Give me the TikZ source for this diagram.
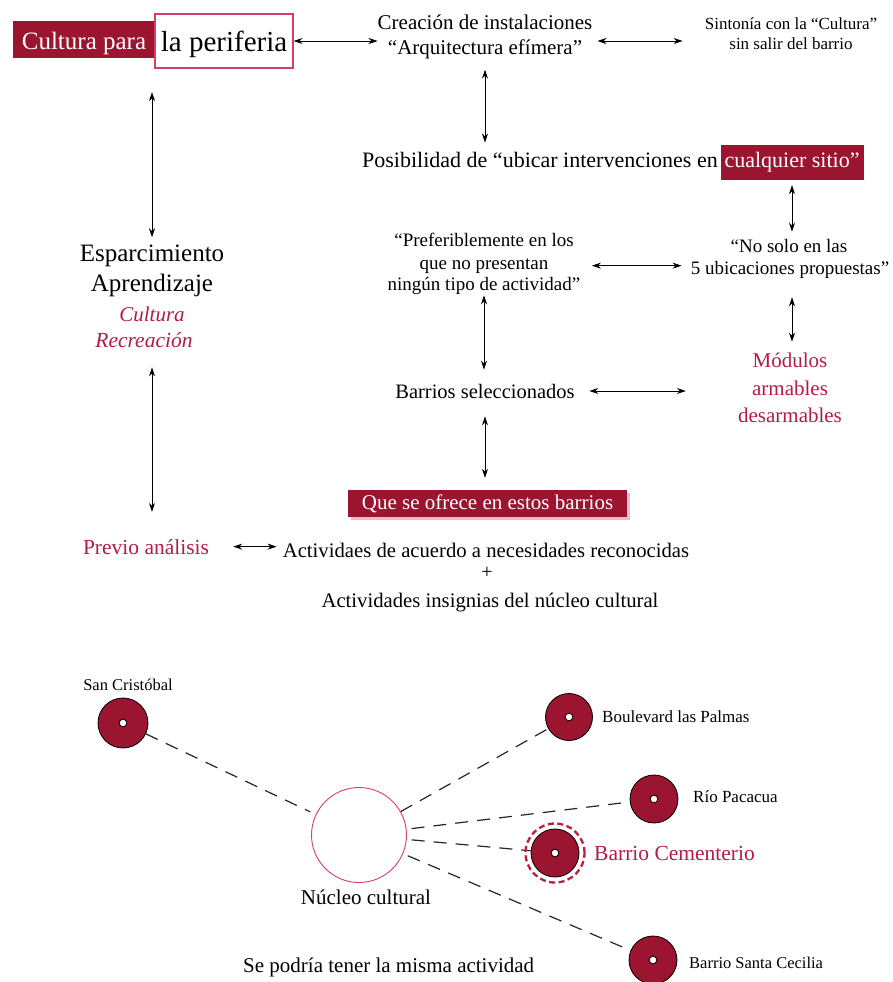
\documentclass[tikz,border=0pt]{standalone}
\usepackage{fontspec}
\setmainfont{Liberation Serif}
\usetikzlibrary{arrows.meta,shadows}
\definecolor{boxred}{RGB}{155,20,48}
\definecolor{txtred}{RGB}{178,28,72}
\definecolor{linered}{RGB}{214,62,104}
\definecolor{ringred}{RGB}{190,30,60}
\newcommand{\myfs}[1]{\fontsize{#1pt}{#1pt}\selectfont}
\begin{document}
\begin{tikzpicture}[x=1pt,y=-1pt,
  txt/.style={inner sep=0pt, anchor=base},
  txtw/.style={inner sep=0pt, anchor=base west},
  dar/.style={{Stealth[length=9pt,width=6pt]}-{Stealth[length=9pt,width=6pt]}, line width=0.9pt},
  dline/.style={dash pattern=on 13pt off 9pt, line width=1.2pt, draw=black!85},
  redbox/.style={fill=boxred, text=white, inner sep=0pt},
  site/.style={circle, draw=black, line width=0.8pt, fill=boxred, minimum size=48pt, inner sep=0pt,
    path picture={\fill[white,draw=black,line width=0.8pt] (path picture bounding box.center) circle (3.8pt);}},
]
\useasboundingbox (0,0) rectangle (892,982);
\fill[white] (0,0) rectangle (892,982);

% ---------- top block ----------
\node[redbox, minimum width=142pt, minimum height=37pt, text height=23pt, text depth=4pt, font=\myfs{25}] (cult) at (84,39.5) {Cultura para};
\node[draw=linered, line width=1.1pt, fill=white, minimum width=138pt, minimum height=54pt, inner sep=0pt, text height=25pt, text depth=3pt, font=\myfs{29}] (peri) at (224,41) {la periferia};

\node[txt, font=\myfs{21}] (crea1) at (485,30) {Creación de instalaciones};
\node[txt, font=\myfs{21}] (crea2) at (485,55) {“Arquitectura efímera”};

\node[txt, font=\myfs{17}] (sint1) at (791,30) {Sintonía con la “Cultura”};
\node[txt, font=\myfs{17}] (sint2) at (791,49) {sin salir del barrio};

\node[txtw, font=\myfs{22}] (posib) at (362,167) {Posibilidad de “ubicar intervenciones en};
\node[redbox, minimum width=143pt, minimum height=35pt, font=\myfs{22}] (cualq) at (792,162.5) {cualquier sitio”};

\node[txt, font=\myfs{19}] (nosolo1) at (789,252) {“No solo en las};
\node[txt, font=\myfs{19}] (nosolo2) at (790,274) {5 ubicaciones propuestas”};

\node[txt, font=\myfs{19}] (pref1) at (484,246) {“Preferiblemente en los};
\node[txt, font=\myfs{19}] (pref2) at (484,269) {que no presentan};
\node[txt, font=\myfs{19}] (pref3) at (484,290) {ningún tipo de actividad”};

\node[txt, font=\myfs{21}, text=txtred] (mod1) at (790,367) {Módulos};
\node[txt, font=\myfs{21}, text=txtred] (mod2) at (790,395) {armables};
\node[txt, font=\myfs{21}, text=txtred] (mod3) at (790,422) {desarmables};

\node[txt, font=\myfs{20.5}] (barrios) at (485,398) {Barrios seleccionados};

\node[redbox, minimum width=279pt, minimum height=27pt, font=\myfs{21},
  drop shadow={shadow xshift=2.5pt, shadow yshift=-3pt, fill=boxred!45, opacity=0.6}] (ofrece) at (487.5,503.5) {Que se ofrece en estos barrios};

\node[txt, font=\myfs{25}] (esp) at (152,261) {Esparcimiento};
\node[txt, font=\myfs{25}] (aprend) at (152,291) {Aprendizaje};
\node[txt, font={\myfs{21}\itshape}, text=txtred] (cultura) at (152,321) {Cultura};
\node[txt, font={\myfs{21.5}\itshape}, text=txtred] (recre) at (144,347) {Recreación};

\node[txt, font=\myfs{21.5}, text=txtred] (previo) at (146,554) {Previo análisis};
\node[txt, font=\myfs{20.7}] (activ1) at (486,557) {Actividaes de acuerdo a necesidades reconocidas};
\node[txt, font=\myfs{20}] (plus) at (487,578) {+};
\node[txt, font=\myfs{20.7}] (activ2) at (490,607) {Actividades insignias del núcleo cultural};

% ---------- arrows ----------
\draw[dar] (peri.east) -- (peri.east -| crea1.west);
\draw[dar, shorten <=5pt, shorten >=22pt] (crea1.east |- peri.east) -- (sint1.west |- peri.east);
\draw[dar, shorten <=10pt, shorten >=9pt] (crea2.south) -- (crea2.south |- posib.north);
\draw[dar, shorten <=5pt, shorten >=7pt] (cualq.south) -- (cualq.south |- nosolo1.north);
\draw[dar, shorten <=19pt, shorten >=10.5pt] (cualq.south |- nosolo2.south) -- (cualq.south |- mod1.north);
\draw[dar, shorten <=18pt, shorten >=9pt] (pref2.east -| pref1.east) -- (pref2.east -| nosolo2.west);
\draw[dar, shorten <=1pt, shorten >=14pt] (pref3.south) -- (pref3.south |- barrios.north);
\draw[dar, shorten <=14.5pt, shorten >=52pt] (barrios.east) -- (barrios.east -| mod3.west);
\draw[dar, shorten <=18pt, shorten >=12pt] (barrios.south) -- (barrios.south |- ofrece.north);
\draw[dar, shorten <=34pt, shorten >=7pt] (esp.north |- cult.south) -- (esp.north);
\draw[dar, shorten <=20pt, shorten >=27pt] (esp.south |- recre.south) -- (esp.south |- previo.north);
\draw[dar, shorten <=24pt, shorten >=6pt] (previo.east) -- (previo.east -| activ1.west);

% ---------- bottom block ----------
\node[txt, font=\myfs{16.5}] (sclab) at (128,690) {San Cristóbal};
\node[site, minimum size=50pt] (sc) at (123,723) {};
\node[circle, draw=linered, line width=0.9pt, minimum size=95pt, inner sep=0pt] (nuc) at (359,835) {};
\node[txt, font=\myfs{21}] (nuclab) at (366,904) {Núcleo cultural};
\node[txtw, font=\myfs{21}] (sepod) at (243,972) {Se podría tener la misma actividad};

\node[site, minimum size=47pt] (boul) at (569,717) {};
\node[txtw, font=\myfs{17}] (boullab) at (602,722) {Boulevard las Palmas};
\node[site] (rio) at (654,799) {};
\node[txtw, font=\myfs{17}] (riolab) at (693,802) {Río Pacacua};
\node[site] (cem) at (555,853) {};
\node[txtw, font=\myfs{21.5}, text=txtred] (cemlab) at (594,860) {Barrio Cementerio};
\node[site] (scec) at (653,960) {};
\node[txtw, font=\myfs{16.5}] (sceclab) at (689,968) {Barrio Santa Cecilia};

\draw[dline, shorten >=6pt] (sc) -- (nuc);
\draw[dline] (nuc) -- (boul);
\draw[dline, shorten <=5pt] (nuc) -- (rio);
\draw[dline, shorten <=5pt] (nuc) -- (cem);
\draw[dline, shorten <=5pt] (nuc) -- (scec);

\node[circle, draw=ringred, line width=2.3pt, dash pattern=on 6pt off 3.5pt, minimum size=59pt, inner sep=0pt] (cemring) at (cem) {};
\end{tikzpicture}
\end{document}
